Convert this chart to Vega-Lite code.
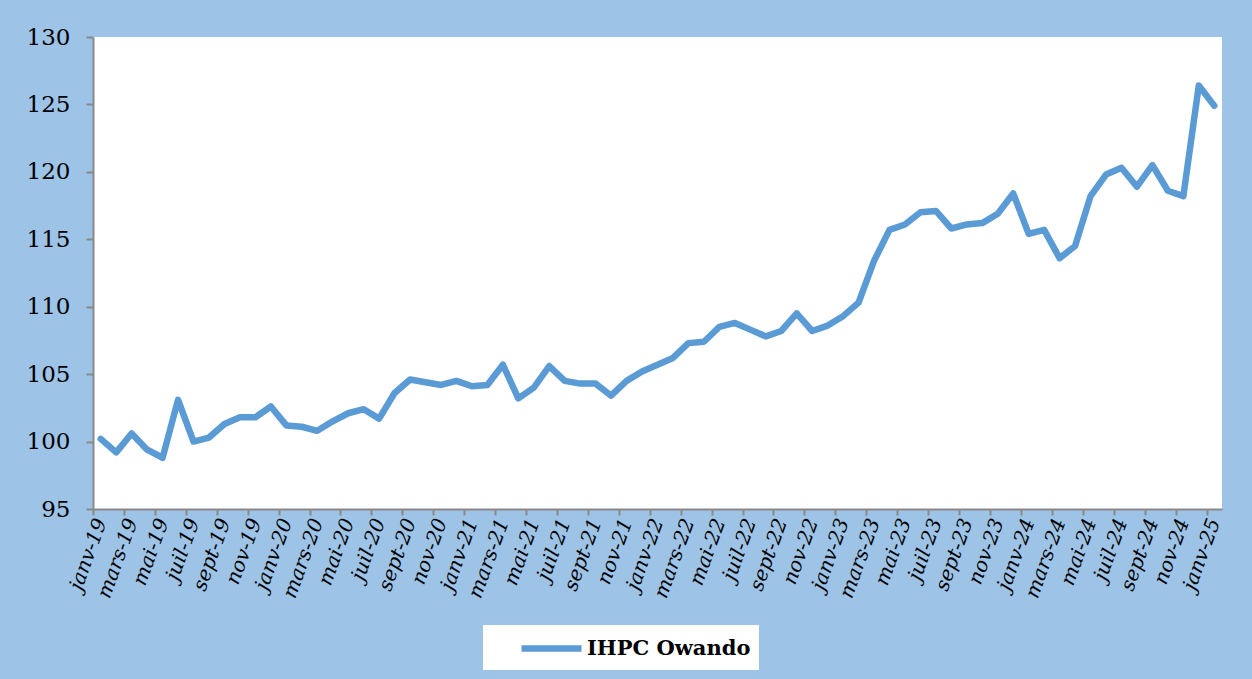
{
  "$schema": "https://vega.github.io/schema/vega-lite/v6.json",
  "autosize": "none",
  "width": 1129,
  "height": 472,
  "padding": {"left": 93, "top": 37, "right": 30, "bottom": 170},
  "background": "#9DC3E6",
  "config": {
    "view": {"fill": "white", "stroke": null},
    "font": "DejaVu Serif"
  },
  "data": {
    "values": [
      {"mois": "janv-19", "ihpc": 100.2, "serie": "IHPC Owando"},
      {"mois": "févr-19", "ihpc": 99.2, "serie": "IHPC Owando"},
      {"mois": "mars-19", "ihpc": 100.6, "serie": "IHPC Owando"},
      {"mois": "avr-19", "ihpc": 99.4, "serie": "IHPC Owando"},
      {"mois": "mai-19", "ihpc": 98.8, "serie": "IHPC Owando"},
      {"mois": "juin-19", "ihpc": 103.1, "serie": "IHPC Owando"},
      {"mois": "juil-19", "ihpc": 100.0, "serie": "IHPC Owando"},
      {"mois": "août-19", "ihpc": 100.3, "serie": "IHPC Owando"},
      {"mois": "sept-19", "ihpc": 101.3, "serie": "IHPC Owando"},
      {"mois": "oct-19", "ihpc": 101.8, "serie": "IHPC Owando"},
      {"mois": "nov-19", "ihpc": 101.8, "serie": "IHPC Owando"},
      {"mois": "déc-19", "ihpc": 102.6, "serie": "IHPC Owando"},
      {"mois": "janv-20", "ihpc": 101.2, "serie": "IHPC Owando"},
      {"mois": "févr-20", "ihpc": 101.1, "serie": "IHPC Owando"},
      {"mois": "mars-20", "ihpc": 100.8, "serie": "IHPC Owando"},
      {"mois": "avr-20", "ihpc": 101.5, "serie": "IHPC Owando"},
      {"mois": "mai-20", "ihpc": 102.1, "serie": "IHPC Owando"},
      {"mois": "juin-20", "ihpc": 102.4, "serie": "IHPC Owando"},
      {"mois": "juil-20", "ihpc": 101.7, "serie": "IHPC Owando"},
      {"mois": "août-20", "ihpc": 103.6, "serie": "IHPC Owando"},
      {"mois": "sept-20", "ihpc": 104.6, "serie": "IHPC Owando"},
      {"mois": "oct-20", "ihpc": 104.4, "serie": "IHPC Owando"},
      {"mois": "nov-20", "ihpc": 104.2, "serie": "IHPC Owando"},
      {"mois": "déc-20", "ihpc": 104.5, "serie": "IHPC Owando"},
      {"mois": "janv-21", "ihpc": 104.1, "serie": "IHPC Owando"},
      {"mois": "févr-21", "ihpc": 104.2, "serie": "IHPC Owando"},
      {"mois": "mars-21", "ihpc": 105.7, "serie": "IHPC Owando"},
      {"mois": "avr-21", "ihpc": 103.2, "serie": "IHPC Owando"},
      {"mois": "mai-21", "ihpc": 104.0, "serie": "IHPC Owando"},
      {"mois": "juin-21", "ihpc": 105.6, "serie": "IHPC Owando"},
      {"mois": "juil-21", "ihpc": 104.5, "serie": "IHPC Owando"},
      {"mois": "août-21", "ihpc": 104.3, "serie": "IHPC Owando"},
      {"mois": "sept-21", "ihpc": 104.3, "serie": "IHPC Owando"},
      {"mois": "oct-21", "ihpc": 103.4, "serie": "IHPC Owando"},
      {"mois": "nov-21", "ihpc": 104.5, "serie": "IHPC Owando"},
      {"mois": "déc-21", "ihpc": 105.2, "serie": "IHPC Owando"},
      {"mois": "janv-22", "ihpc": 105.7, "serie": "IHPC Owando"},
      {"mois": "févr-22", "ihpc": 106.2, "serie": "IHPC Owando"},
      {"mois": "mars-22", "ihpc": 107.3, "serie": "IHPC Owando"},
      {"mois": "avr-22", "ihpc": 107.4, "serie": "IHPC Owando"},
      {"mois": "mai-22", "ihpc": 108.5, "serie": "IHPC Owando"},
      {"mois": "juin-22", "ihpc": 108.8, "serie": "IHPC Owando"},
      {"mois": "juil-22", "ihpc": 108.3, "serie": "IHPC Owando"},
      {"mois": "août-22", "ihpc": 107.8, "serie": "IHPC Owando"},
      {"mois": "sept-22", "ihpc": 108.2, "serie": "IHPC Owando"},
      {"mois": "oct-22", "ihpc": 109.5, "serie": "IHPC Owando"},
      {"mois": "nov-22", "ihpc": 108.2, "serie": "IHPC Owando"},
      {"mois": "déc-22", "ihpc": 108.6, "serie": "IHPC Owando"},
      {"mois": "janv-23", "ihpc": 109.3, "serie": "IHPC Owando"},
      {"mois": "févr-23", "ihpc": 110.3, "serie": "IHPC Owando"},
      {"mois": "mars-23", "ihpc": 113.4, "serie": "IHPC Owando"},
      {"mois": "avr-23", "ihpc": 115.7, "serie": "IHPC Owando"},
      {"mois": "mai-23", "ihpc": 116.1, "serie": "IHPC Owando"},
      {"mois": "juin-23", "ihpc": 117.0, "serie": "IHPC Owando"},
      {"mois": "juil-23", "ihpc": 117.1, "serie": "IHPC Owando"},
      {"mois": "août-23", "ihpc": 115.8, "serie": "IHPC Owando"},
      {"mois": "sept-23", "ihpc": 116.1, "serie": "IHPC Owando"},
      {"mois": "oct-23", "ihpc": 116.2, "serie": "IHPC Owando"},
      {"mois": "nov-23", "ihpc": 116.9, "serie": "IHPC Owando"},
      {"mois": "déc-23", "ihpc": 118.4, "serie": "IHPC Owando"},
      {"mois": "janv-24", "ihpc": 115.4, "serie": "IHPC Owando"},
      {"mois": "févr-24", "ihpc": 115.7, "serie": "IHPC Owando"},
      {"mois": "mars-24", "ihpc": 113.6, "serie": "IHPC Owando"},
      {"mois": "avr-24", "ihpc": 114.5, "serie": "IHPC Owando"},
      {"mois": "mai-24", "ihpc": 118.2, "serie": "IHPC Owando"},
      {"mois": "juin-24", "ihpc": 119.8, "serie": "IHPC Owando"},
      {"mois": "juil-24", "ihpc": 120.3, "serie": "IHPC Owando"},
      {"mois": "août-24", "ihpc": 118.9, "serie": "IHPC Owando"},
      {"mois": "sept-24", "ihpc": 120.5, "serie": "IHPC Owando"},
      {"mois": "oct-24", "ihpc": 118.6, "serie": "IHPC Owando"},
      {"mois": "nov-24", "ihpc": 118.2, "serie": "IHPC Owando"},
      {"mois": "déc-24", "ihpc": 126.4, "serie": "IHPC Owando"},
      {"mois": "janv-25", "ihpc": 124.9, "serie": "IHPC Owando"}
    ]
  },
  "mark": {"type": "line", "strokeWidth": 6.5, "strokeCap": "round", "strokeJoin": "round"},
  "encoding": {
    "x": {
      "field": "mois",
      "type": "ordinal",
      "sort": null,
      "scale": {"type": "point", "padding": 0.5},
      "axis": {
        "title": null,
        "values": ["janv-19","mars-19","mai-19","juil-19","sept-19","nov-19","janv-20","mars-20","mai-20","juil-20","sept-20","nov-20","janv-21","mars-21","mai-21","juil-21","sept-21","nov-21","janv-22","mars-22","mai-22","juil-22","sept-22","nov-22","janv-23","mars-23","mai-23","juil-23","sept-23","nov-23","janv-24","mars-24","mai-24","juil-24","sept-24","nov-24","janv-25"],
        "tickOffset": -7.73,
        "labelOffset": 7.73,
        "labelAngle": -70,
        "labelAlign": "right",
        "labelBaseline": "middle",
        "labelFont": "DejaVu Serif",
        "labelFontStyle": "italic",
        "labelFontSize": 20,
        "labelColor": "black",
        "labelPadding": 4,
        "domainColor": "#898989",
        "domainWidth": 2,
        "tickColor": "#898989",
        "tickWidth": 2,
        "tickSize": 6,
        "grid": false
      }
    },
    "y": {
      "field": "ihpc",
      "type": "quantitative",
      "scale": {"domain": [95, 130], "nice": false, "zero": false},
      "axis": {
        "title": null,
        "values": [95, 100, 105, 110, 115, 120, 125, 130],
        "labelFont": "DejaVu Serif",
        "labelFontSize": 23,
        "labelColor": "black",
        "labelPadding": 16,
        "domainColor": "#898989",
        "domainWidth": 2,
        "tickColor": "#898989",
        "tickWidth": 2,
        "tickSize": 7,
        "grid": false
      }
    },
    "color": {
      "field": "serie",
      "type": "nominal",
      "scale": {"range": ["#5B9BD5"]},
      "legend": {
        "title": null,
        "orient": "none",
        "legendX": 390,
        "legendY": 588,
        "fillColor": "white",
        "padding": 8,
        "symbolType": "M-2.5,0H2.5",
        "symbolSize": 576,
        "symbolStrokeWidth": 6.5,
        "symbolStrokeColor": "#5B9BD5",
        "symbolOffset": 45,
        "labelOffset": 20,
        "labelLimit": 400,
        "labelFont": "DejaVu Serif",
        "labelFontWeight": "bold",
        "labelFontSize": 21,
        "labelColor": "black"
      }
    }
  }
}
